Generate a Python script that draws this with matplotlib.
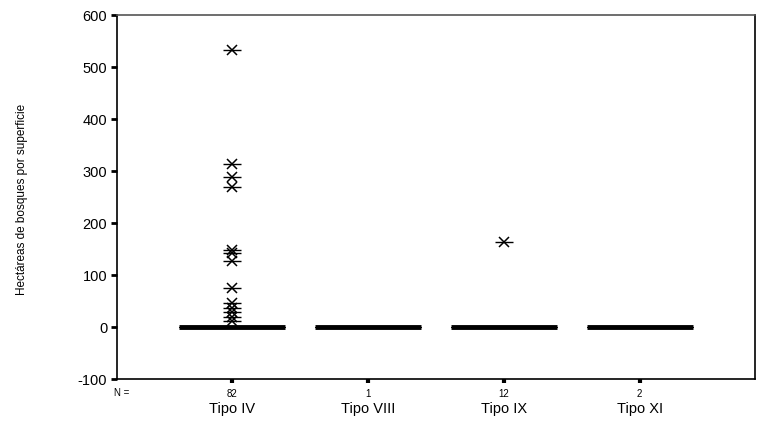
import matplotlib.pyplot as plt
import numpy as np

plt.rcParams['font.family'] = ['Liberation Sans', 'DejaVu Sans']

# data
categories = ['Tipo IV', 'Tipo VIII', 'Tipo IX', 'Tipo XI']
n_counts = [82, 1, 12, 2]
outliers_iv = [532, 314, 288, 269, 148, 143, 127, 75, 47, 37, 28, 19, 12]
outliers_viii = []
outliers_ix = [164]
outliers_xi = []
yticks = [-100, 0, 100, 200, 300, 400, 500, 600]

all_out = [outliers_iv, outliers_viii, outliers_ix, outliers_xi]
# the rest of each group sits at 0
groups = [np.concatenate([o, np.zeros(n - len(o))]) for o, n in zip(all_out, n_counts)]

fig = plt.figure(figsize=(7.59, 4.24), dpi=100)
ax = fig.add_axes([0.1542, 0.1061, 0.8405, 0.8585])

pos = np.arange(1, len(categories) + 1)
bp = ax.boxplot(groups, positions=pos, widths=0.78, whis=1.5,
                medianprops=dict(color='black', linewidth=3.5, solid_capstyle='butt'),
                boxprops=dict(color='black', linewidth=0.5),
                whiskerprops=dict(linewidth=0), capprops=dict(linewidth=0),
                flierprops=dict(marker='x', markersize=6.5, markeredgecolor='black',
                                markeredgewidth=1.1, linestyle='none'))
# SPSS style asterisk: add a horizontal dash through each outlier
for fl in bp['fliers']:
    ax.plot(fl.get_xdata(), fl.get_ydata(), linestyle='none', marker='_',
            markersize=13, markeredgewidth=1.0, color='black')

ax.set_xlim(0.15, 4.85)
ax.set_ylim(-100, 600)
ax.set_yticks(yticks)
ax.set_yticklabels([str(t) for t in yticks], fontsize=10.5)
ax.set_xticks(pos)
ax.set_xticklabels([str(n) for n in n_counts], fontsize=7)
ax.tick_params(axis='y', direction='out', length=4, width=2, pad=3)
ax.tick_params(axis='x', direction='out', length=3, width=3, pad=4)

for i, c in enumerate(categories):
    ax.text(pos[i], -0.064, c, transform=ax.get_xaxis_transform(),
            ha='center', va='top', fontsize=10.5)
ax.text(0.02, -0.026, 'N =', transform=ax.transAxes, ha='right', va='top', fontsize=7)

for s in ax.spines.values():
    s.set_linewidth(1.2)
ax.spines['top'].set_color('#555555')

fig.text(0.029, 0.53, 'Hectáreas de bosques por superficie', rotation=90,
         ha='center', va='center', fontsize=8.5)

fig.savefig('out.png', dpi=100)
